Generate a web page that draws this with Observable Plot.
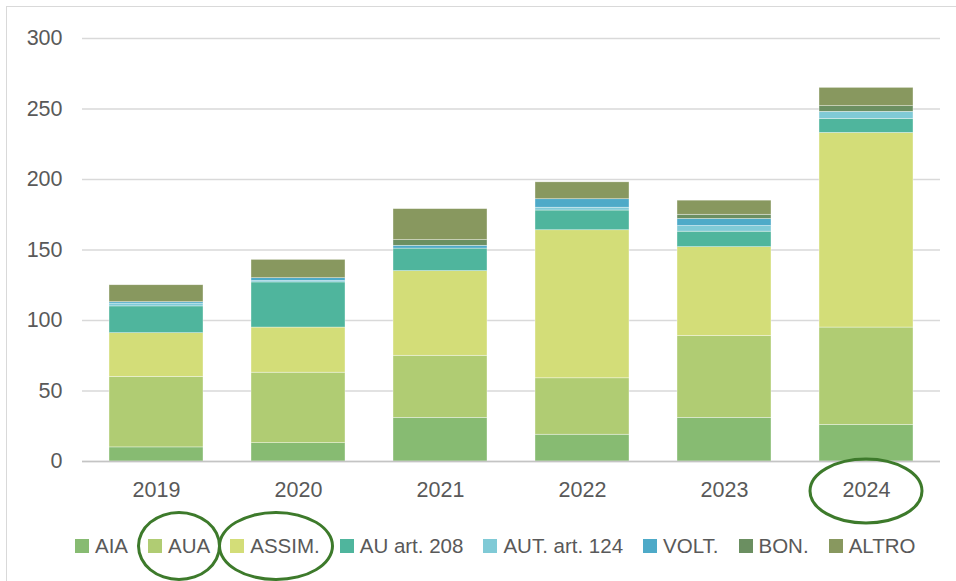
<!DOCTYPE html>
<html>
<head>
<meta charset="utf-8">
<script src="https://cdn.jsdelivr.net/npm/d3@7"></script>
<script src="https://cdn.jsdelivr.net/npm/@observablehq/plot@0.6"></script>
<style>
  html, body { margin: 0; padding: 0; background: #fff; overflow: hidden; }
  #wrap { position: relative; width: 956px; height: 581px; font-family: "Liberation Sans", Arial, sans-serif; overflow: hidden; }
  #frame { position: absolute; left: 6px; top: 6px; width: 1000px; height: 700px; border: 1.5px solid #d9d9d9; box-sizing: border-box; pointer-events: none; }
  #chart { position: absolute; left: 0; top: 0; }
  #legend { position: absolute; left: 75px; top: 534px; display: flex; font-size: 20.5px; color: #595959; }
  .item { position: relative; display: inline-flex; align-items: center; margin-right: 20px; line-height: 24px; }
  .sw { width: 14px; height: 14px; margin-right: 6px; display: inline-block; }
  .ring::after { content: ""; position: absolute; border: 3px solid #3d7a2b; border-radius: 50%; }
</style>
</head>
<body>
<div id="wrap">
  <div id="frame"></div>
  <div id="chart"></div>
  <div id="legend"></div>
</div>
<script>
const years = ["2019", "2020", "2021", "2022", "2023", "2024"];
const series = ["AIA", "AUA", "ASSIM.", "AU art. 208", "AUT. art. 124", "VOLT.", "BON.", "ALTRO"];
const aia    = [10, 13, 31, 19, 31, 26];
const aua    = [50, 50, 44, 40, 58, 69];
const assim  = [31, 32, 60, 105, 63, 138];
const au208  = [19, 32, 16, 14, 11, 10];
const aut124 = [2, 1, 0, 2, 4, 5];
const volt   = [1, 2, 2, 6, 5, 0];
const bon    = [0, 0, 4, 0, 3, 4];
const altro  = [12, 13, 22, 12, 10, 13];
const colors = ["#87bb72", "#b0cc73", "#d3dd78", "#4fb59d", "#80cad6", "#4eaac8", "#6b8f61", "#88985f"];
const yTicks = [0, 50, 100, 150, 200, 250, 300];
const highlightYear = "2024";
const highlightSeries = ["AUA", "ASSIM."];

const values = [aia, aua, assim, au208, aut124, volt, bon, altro];
const rows = [];
series.forEach((s, i) => years.forEach((y, j) => rows.push({year: y, series: s, value: values[i][j]})));

const ellipseMark = (index, scales, vals, dims) => {
  const x = scales.x;
  const bw = typeof x.bandwidth === "function" ? x.bandwidth() : (x.bandwidth || 0);
  const cx = x(highlightYear) + bw / 2;
  const cy = dims.height - dims.marginBottom + 30;
  const e = document.createElementNS("http://www.w3.org/2000/svg", "ellipse");
  e.setAttribute("cx", cx);
  e.setAttribute("cy", cy);
  e.setAttribute("rx", 56);
  e.setAttribute("ry", 32);
  e.setAttribute("fill", "none");
  e.setAttribute("stroke", "#3d7a2b");
  e.setAttribute("stroke-width", 3);
  return e;
};

const chart = Plot.plot({
  width: 956,
  height: 526,
  marginLeft: 82,
  marginRight: 16,
  marginTop: 38,
  marginBottom: 65,
  style: {fontFamily: "'Liberation Sans', Arial, sans-serif", fontSize: "21.5px", color: "#595959", overflow: "visible", background: "transparent"},
  x: {domain: years, paddingInner: 0.34, paddingOuter: 0.18, label: null, tickSize: 0, tickPadding: 20},
  y: {domain: [0, 300], ticks: yTicks, label: null, tickSize: 0, tickPadding: 20},
  color: {domain: series, range: colors},
  marks: [
    Plot.gridY(yTicks, {stroke: "#d9d9d9", strokeOpacity: 1, strokeWidth: 1.3}),
    Plot.barY(rows, {x: "year", y: "value", fill: "series", order: series, stroke: "#ffffff", strokeWidth: 0.6, strokeOpacity: 0.6}),
    Plot.ruleY([0], {stroke: "#c4c4c4", strokeWidth: 1.5}),
    ellipseMark
  ]
});
document.getElementById("chart").appendChild(chart);

const legend = document.getElementById("legend");
series.forEach((s, i) => {
  const it = document.createElement("span");
  it.className = "item";
  const sw = document.createElement("span");
  sw.className = "sw";
  sw.style.background = colors[i];
  it.appendChild(sw);
  it.appendChild(document.createTextNode(s));
  if (highlightSeries.includes(s)) {
    it.classList.add("ring");
    it.classList.add(s === "AUA" ? "r1" : "r2");
  }
  legend.appendChild(it);
});
const st = document.createElement("style");
st.textContent = ".r1::after{left:-11px;right:-11px;top:-23px;bottom:-23px}.r2::after{left:-12px;right:-14px;top:-23px;bottom:-23px}";
document.head.appendChild(st);
</script>
</body>
</html>
